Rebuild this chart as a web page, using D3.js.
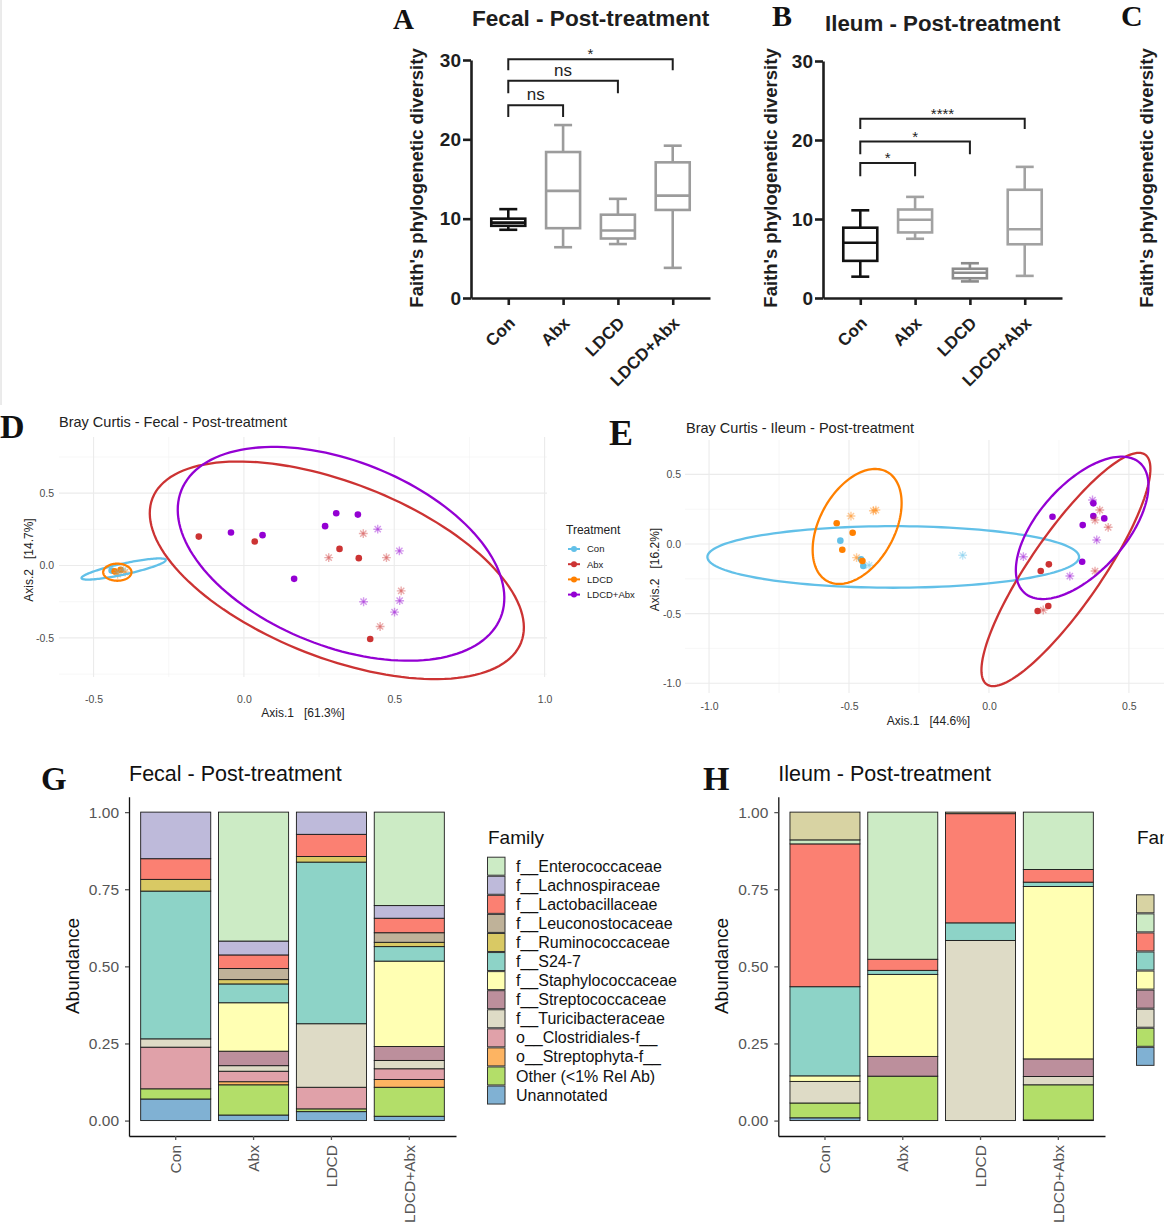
<!DOCTYPE html>
<html>
<head>
<meta charset="utf-8">
<title>Faith PD, Bray Curtis PCoA and family abundance</title>
<script src="https://cdn.jsdelivr.net/npm/d3@7"></script>
<style>
  body { margin: 0; background: #fff; }
  svg { display: block; }
</style>
</head>
<body>
<svg id="fig" width="1164" height="1224"></svg>
<script>
// groups shared by every panel
const groups = ["Con", "Abx", "LDCD", "LDCD+Abx"];
const treatColours = ["#62c0e8", "#cc3333", "#ff8000", "#9400d3"];

// A / B: Faith's phylogenetic diversity, [min, q1, median, q3, max] per group
const faithFecal = [[8.6, 9.1, 9.5, 10.0, 11.2], [6.4, 8.8, 13.5, 18.4, 21.8], [6.8, 7.5, 8.5, 10.5, 12.5], [3.8, 11.1, 12.9, 17.1, 19.2]];
const faithIleum = [[2.7, 4.7, 7.0, 8.9, 11.1], [7.5, 8.3, 9.9, 11.2, 12.8], [2.1, 2.5, 3.2, 3.7, 4.4], [2.8, 6.8, 8.7, 13.7, 16.6]];
// significance brackets: [group a, group b, bar level, foot level, label]
const sigFecal = [["Con", "Abx", 24.3, 22.8, "ns"], ["Con", "LDCD", 27.4, 25.8, "ns"], ["Con", "LDCD+Abx", 30.1, 28.7, "*"]];
const sigIleum = [["Con", "Abx", 17.1, 15.4, "*"], ["Con", "LDCD", 19.8, 18.2, "*"], ["Con", "LDCD+Abx", 22.7, 21.4, "****"]];
const faithTicks = [0, 10, 20, 30];

// D / E: Bray Curtis PCoA points [axis1, axis2, group, marker] (0 = dot, 1 = asterisk)
const pcoaFecal = [
  [-0.44, -0.035, "Con", 0], [-0.42, -0.05, "Con", 1], [-0.40, -0.03, "Con", 1],
  [-0.43, -0.04, "LDCD", 0], [-0.41, -0.03, "LDCD", 0], [-0.42, -0.06, "LDCD", 1], [-0.395, -0.045, "LDCD", 1],
  [-0.150, 0.200, "Abx", 0], [0.036, 0.166, "Abx", 0], [0.318, 0.115, "Abx", 0], [0.382, 0.051, "Abx", 0], [0.420, -0.508, "Abx", 0],
  [0.397, 0.221, "Abx", 1], [0.282, 0.055, "Abx", 1], [0.474, 0.055, "Abx", 1], [0.523, -0.175, "Abx", 1], [0.453, -0.421, "Abx", 1],
  [-0.043, 0.228, "LDCD+Abx", 0], [0.062, 0.210, "LDCD+Abx", 0], [0.167, -0.092, "LDCD+Abx", 0], [0.270, 0.272, "LDCD+Abx", 0],
  [0.307, 0.361, "LDCD+Abx", 0], [0.379, 0.352, "LDCD+Abx", 0],
  [0.445, 0.251, "LDCD+Abx", 1], [0.517, 0.101, "LDCD+Abx", 1], [0.398, -0.250, "LDCD+Abx", 1], [0.518, -0.243, "LDCD+Abx", 1], [0.501, -0.322, "LDCD+Abx", 1]
];
const pcoaIleum = [
  [-0.531, 0.024, "Con", 0], [-0.457, -0.110, "Con", 0], [-0.449, -0.158, "Con", 0], [-0.428, -0.153, "Con", 1], [-0.094, -0.081, "Con", 1],
  [-0.544, 0.149, "LDCD", 0], [-0.487, 0.081, "LDCD", 0], [-0.524, -0.041, "LDCD", 0], [-0.452, -0.122, "LDCD", 0],
  [-0.493, 0.201, "LDCD", 1], [-0.413, 0.239, "LDCD", 1], [-0.404, 0.244, "LDCD", 1], [-0.473, -0.098, "LDCD", 1],
  [0.214, -0.146, "Abx", 0], [0.185, -0.194, "Abx", 0], [0.212, -0.445, "Abx", 0], [0.174, -0.481, "Abx", 0],
  [0.396, 0.244, "Abx", 1], [0.379, 0.172, "Abx", 1], [0.426, 0.120, "Abx", 1], [0.379, -0.194, "Abx", 1], [0.194, -0.474, "Abx", 1],
  [0.227, 0.196, "LDCD+Abx", 0], [0.373, 0.292, "LDCD+Abx", 0], [0.373, 0.201, "LDCD+Abx", 0], [0.412, 0.184, "LDCD+Abx", 0],
  [0.335, 0.136, "LDCD+Abx", 0], [0.333, -0.127, "LDCD+Abx", 0],
  [0.370, 0.316, "LDCD+Abx", 1], [0.385, 0.029, "LDCD+Abx", 1], [0.123, -0.091, "LDCD+Abx", 1], [0.289, -0.230, "LDCD+Abx", 1]
];
// 95% ellipses: [group, cx, cy, ux, uy, vx, vy]  (u, v = semi-axis vectors in axis units)
const ellFecal = [
  ["Con", -0.400, -0.024, 0.140, 0.063, 0.004, -0.037],
  ["Abx", 0.309, -0.033, 0.613, -0.498, -0.106, -0.563],
  ["LDCD", -0.421, -0.046, 0.047, 0.0, 0.0, 0.059],
  ["LDCD+Abx", 0.323, 0.081, 0.531, -0.439, -0.114, -0.594]
];
const ellIleum = [
  ["Con", -0.342, -0.093, 0.664, 0.0, 0.0, 0.221],
  ["Abx", 0.275, -0.183, 0.283, 0.825, 0.105, -0.146],
  ["LDCD", -0.471, 0.126, 0.107, 0.392, 0.1175, -0.130],
  ["LDCD+Abx", 0.333, 0.116, 0.206, 0.467, 0.117, -0.208]
];

// G / H: relative abundance per family (legend order), values for Con, Abx, LDCD, LDCD+Abx
const famFecal = ["f__Enterococcaceae", "f__Lachnospiraceae", "f__Lactobacillaceae", "f__Leuconostocaceae", "f__Ruminococcaceae",
  "f__S24-7", "f__Staphylococcaceae", "f__Streptococcaceae", "f__Turicibacteraceae", "o__Clostridiales-f__",
  "o__Streptophyta-f__", "Other (<1% Rel Ab)", "Unannotated"];
const famFecalColours = ["#ccebc5", "#bebada", "#fb8072", "#bfb299", "#d9c964", "#8dd3c7", "#ffffb3", "#bc8f9c", "#dedbc6",
  "#e0a1a9", "#fdb462", "#b3de69", "#80b1d3"];
const abundFecal = [
  [0, 0.418, 0, 0.303],
  [0.151, 0.045, 0.072, 0.041],
  [0.067, 0.044, 0.072, 0.047],
  [0, 0.036, 0, 0.031],
  [0.038, 0.014, 0.018, 0.014],
  [0.479, 0.061, 0.524, 0.047],
  [0, 0.157, 0, 0.277],
  [0, 0.047, 0, 0.045],
  [0.027, 0.018, 0.206, 0.027],
  [0.135, 0.034, 0.070, 0.035],
  [0, 0.010, 0, 0.025],
  [0.033, 0.098, 0.009, 0.094],
  [0.070, 0.018, 0.029, 0.014]
];
// first family name is cut off at the figure edge
const famIleum = ["(label cut off)", "f__Enterococcaceae", "f__Lactobacillaceae", "f__S24-7", "f__Staphylococcaceae",
  "f__Streptococcaceae", "f__Turicibacteraceae", "Other (<1% Rel Ab)", "Unannotated"];
const famIleumColours = ["#d8d3a3", "#ccebc5", "#fb8072", "#8dd3c7", "#ffffb3", "#bc8f9c", "#dedbc6", "#b3de69", "#80b1d3"];
const abundIleum = [
  [0.090, 0, 0.005, 0],
  [0.013, 0.477, 0, 0.186],
  [0.463, 0.036, 0.354, 0.041],
  [0.289, 0.013, 0.057, 0.014],
  [0.018, 0.266, 0, 0.559],
  [0, 0.064, 0, 0.057],
  [0.070, 0, 0.584, 0.027],
  [0.048, 0.144, 0, 0.114],
  [0.009, 0, 0, 0.002]
];
const abundTicks = [0, 0.25, 0.5, 0.75, 1];

const SANS = "'Liberation Sans', Arial, sans-serif";
const SERIF = "'Liberation Serif', 'Times New Roman', serif";
const svg = d3.select("#fig");

// faint frame line on the left edge
svg.append("line").attr("x1", 1).attr("x2", 1).attr("y1", 0).attr("y2", 405).attr("stroke", "#d6d6d6");

function letter(t, x, y, size) {
  svg.append("text").attr("x", x).attr("y", y).attr("font-family", SERIF).attr("font-weight", "bold")
    .attr("font-size", size).attr("fill", "#111").text(t);
}

function styleAxis(ax, stroke, width, font, size, weight, fill) {
  ax.attr("font-family", null).attr("font-size", null);
  ax.select(".domain").attr("stroke", stroke).attr("stroke-width", width);
  ax.selectAll(".tick line").attr("stroke", stroke).attr("stroke-width", width);
  ax.selectAll(".tick text").attr("font-family", font).attr("font-size", size)
    .attr("font-weight", weight).attr("fill", fill);
}

// ---------- A / B box plots ----------
function drawBox(cfg) {
  const g = svg.append("g");
  const x = d3.scalePoint().domain(groups).range([cfg.left, cfg.right]).padding(0.68);
  const y = d3.scaleLinear().domain([0, 30]).range([298, cfg.top]);
  const ink = "#1e1e1e";

  const ya = g.append("g").attr("transform", `translate(${cfg.left},0)`)
    .call(d3.axisLeft(y).tickValues(faithTicks).tickSize(8).tickPadding(2).tickSizeOuter(0));
  styleAxis(ya, ink, 2.6, SANS, 19, "bold", ink);

  const xa = g.append("g").attr("transform", `translate(0,${y(0)})`)
    .call(d3.axisBottom(x).tickSize(7).tickSizeOuter(0));
  styleAxis(xa, ink, 2.6, SANS, 17, "bold", ink);
  xa.selectAll(".tick text").attr("x", 0).attr("y", 0).attr("dy", "0.35em")
    .attr("transform", "translate(3,22) rotate(-45)").attr("text-anchor", "end");

  g.append("text").attr("transform", `translate(${cfg.ylabX},178) rotate(-90)`)
    .attr("text-anchor", "middle").attr("font-family", SANS).attr("font-weight", "bold")
    .attr("font-size", 18.5).attr("fill", ink).text("Faith's phylogenetic diversity");

  const bw = 34, cw = 18;
  groups.forEach((grp, i) => {
    const s = cfg.stats[i], cx = x(grp);
    const col = cfg.grey[i];
    const b = g.append("g").attr("stroke", col).attr("stroke-width", 2.6).attr("fill", "none");
    b.append("line").attr("x1", cx).attr("x2", cx).attr("y1", y(s[0])).attr("y2", y(s[1]));
    b.append("line").attr("x1", cx).attr("x2", cx).attr("y1", y(s[3])).attr("y2", y(s[4]));
    b.append("line").attr("x1", cx - cw / 2).attr("x2", cx + cw / 2).attr("y1", y(s[0])).attr("y2", y(s[0]));
    b.append("line").attr("x1", cx - cw / 2).attr("x2", cx + cw / 2).attr("y1", y(s[4])).attr("y2", y(s[4]));
    b.append("rect").attr("x", cx - bw / 2).attr("width", bw).attr("y", y(s[3])).attr("height", y(s[1]) - y(s[3]));
    b.append("line").attr("x1", cx - bw / 2).attr("x2", cx + bw / 2).attr("y1", y(s[2])).attr("y2", y(s[2]));
  });

  cfg.sig.forEach(s => {
    const x1 = x(s[0]), x2 = x(s[1]);
    g.append("path").attr("fill", "none").attr("stroke", ink).attr("stroke-width", 2)
      .attr("d", `M${x1},${y(s[3])}V${y(s[2])}H${x2}V${y(s[3])}`);
    const star = s[4] !== "ns";
    g.append("text").attr("x", (x1 + x2) / 2).attr("y", y(s[2]) - (star ? 0 : 5))
      .attr("text-anchor", "middle").attr("font-family", SANS).attr("font-size", star ? 15 : 17)
      .attr("fill", ink).text(s[4]);
  });
}

drawBox({ stats: faithFecal, sig: sigFecal, left: 471, right: 710, top: 60, ylabX: 423,
  grey: ["#111", "#9c9c9c", "#9c9c9c", "#9c9c9c"] });
drawBox({ stats: faithIleum, sig: sigIleum, left: 823, right: 1062, top: 61, ylabX: 777,
  grey: ["#111", "#a2a2a2", "#8c8c8c", "#a2a2a2"] });

letter("A", 393, 29, 29);
letter("B", 772, 26, 30);
letter("C", 1121, 26, 30);
svg.append("text").attr("x", 472).attr("y", 26).attr("font-family", SANS).attr("font-weight", "bold")
  .attr("font-size", 22.6).attr("fill", "#1e1e1e").text("Fecal - Post-treatment");
svg.append("text").attr("x", 825).attr("y", 31).attr("font-family", SANS).attr("font-weight", "bold")
  .attr("font-size", 22.3).attr("fill", "#1e1e1e").text("Ileum - Post-treatment");
// y title of panel C, cut by the figure edge
svg.append("text").attr("transform", "translate(1153,178) rotate(-90)").attr("text-anchor", "middle")
  .attr("font-family", SANS).attr("font-weight", "bold").attr("font-size", 18.5).attr("fill", "#1e1e1e")
  .text("Faith's phylogenetic diversity");

// ---------- D / E PCoA ----------
function starPath(r) {
  const p = d3.path();
  for (let k = 0; k < 4; k++) {
    const a = k * Math.PI / 4;
    p.moveTo(-r * Math.cos(a), -r * Math.sin(a));
    p.lineTo(r * Math.cos(a), r * Math.sin(a));
  }
  return p.toString();
}

function drawPcoa(cfg) {
  const g = svg.append("g");
  const x = d3.scaleLinear().domain(cfg.xDomain).range([cfg.left, cfg.right]);
  const y = d3.scaleLinear().domain(cfg.yDomain).range([cfg.bottom, cfg.top]);
  const colour = d3.scaleOrdinal().domain(groups).range(treatColours);

  const grid = g.append("g");
  grid.selectAll("line.vmin").data(cfg.xMinor).join("line").attr("class", "vmin")
    .attr("x1", d => x(d)).attr("x2", d => x(d)).attr("y1", cfg.top).attr("y2", cfg.bottom)
    .attr("stroke", "#f4f4f4").attr("stroke-width", 0.7);
  grid.selectAll("line.hmin").data(cfg.yMinor).join("line").attr("class", "hmin")
    .attr("y1", d => y(d)).attr("y2", d => y(d)).attr("x1", cfg.left).attr("x2", cfg.right)
    .attr("stroke", "#f4f4f4").attr("stroke-width", 0.7);
  grid.selectAll("line.vmaj").data(cfg.xMajor).join("line").attr("class", "vmaj")
    .attr("x1", d => x(d)).attr("x2", d => x(d)).attr("y1", cfg.top).attr("y2", cfg.bottom)
    .attr("stroke", "#ebebeb").attr("stroke-width", 1.1);
  grid.selectAll("line.hmaj").data(cfg.yMajor).join("line").attr("class", "hmaj")
    .attr("y1", d => y(d)).attr("y2", d => y(d)).attr("x1", cfg.left).attr("x2", cfg.right)
    .attr("stroke", "#ebebeb").attr("stroke-width", 1.1);

  const fmt = d => d.toFixed(1);
  const xa = g.append("g").attr("transform", `translate(0,${cfg.bottom})`)
    .call(d3.axisBottom(x).tickValues(cfg.xMajor).tickFormat(fmt).tickSize(0).tickPadding(cfg.xPad));
  xa.select(".domain").remove();
  styleAxis(xa, "none", 0, SANS, 10.5, "normal", "#4d4d4d");
  const ya = g.append("g").attr("transform", `translate(${cfg.left},0)`)
    .call(d3.axisLeft(y).tickValues(cfg.yMajor).tickFormat(fmt).tickSize(0).tickPadding(cfg.yPad));
  ya.select(".domain").remove();
  styleAxis(ya, "none", 0, SANS, 10.5, "normal", "#4d4d4d");

  // points
  const pts = g.append("g");
  pts.selectAll("circle").data(cfg.points.filter(p => p[3] === 0)).join("circle")
    .attr("cx", p => x(p[0])).attr("cy", p => y(p[1])).attr("r", 3.3).attr("fill", p => colour(p[2]));
  const stars = pts.selectAll("g.star").data(cfg.points.filter(p => p[3] === 1)).join("g").attr("class", "star")
    .attr("transform", p => `translate(${x(p[0])},${y(p[1])})`);
  stars.append("path").attr("d", starPath(4.4)).attr("stroke", p => colour(p[2]))
    .attr("stroke-opacity", 0.4).attr("stroke-width", 1.4).attr("fill", "none");
  stars.append("circle").attr("r", 1.3).attr("fill", p => colour(p[2])).attr("fill-opacity", 0.45);

  // ellipses
  const ell = d3.line().curve(d3.curveLinearClosed);
  g.append("g").selectAll("path").data(cfg.ellipses).join("path")
    .attr("fill", "none").attr("stroke", e => colour(e[0])).attr("stroke-width", 2.3)
    .attr("d", e => ell(d3.range(0, 144).map(i => {
      const t = i / 144 * 2 * Math.PI;
      return [x(e[1] + Math.cos(t) * e[3] + Math.sin(t) * e[5]), y(e[2] + Math.cos(t) * e[4] + Math.sin(t) * e[6])];
    })));

  g.append("text").attr("x", cfg.titleX).attr("y", cfg.titleY).attr("font-family", SANS).attr("font-size", 14.5)
    .attr("fill", "#222").text(cfg.title);
  g.append("text").attr("x", (cfg.left + cfg.right) / 2).attr("y", cfg.xlabY).attr("text-anchor", "middle")
    .attr("font-family", SANS).attr("font-size", 12).attr("fill", "#222").style("white-space", "pre").text(cfg.xlab);
  g.append("text").attr("transform", `translate(${cfg.ylabX},${(cfg.top + cfg.bottom) / 2 + 3}) rotate(-90)`)
    .attr("text-anchor", "middle").attr("dy", "0.35em").attr("font-family", SANS).attr("font-size", 12)
    .attr("fill", "#222").style("white-space", "pre").text(cfg.ylab);
  return colour;
}

const pcoaColour = drawPcoa({
  points: pcoaFecal, ellipses: ellFecal,
  xDomain: [-0.615, 1.008], yDomain: [-0.77, 0.888], left: 59, right: 547, top: 437, bottom: 677,
  xMajor: [-0.5, 0, 0.5, 1.0], xMinor: [-0.25, 0.25, 0.75], yMajor: [-0.5, 0, 0.5], yMinor: [-0.75, -0.25, 0.25, 0.75],
  xPad: 18.5, yPad: 5,
  title: "Bray Curtis - Fecal - Post-treatment", titleX: 59, titleY: 427,
  xlab: "Axis.1   [61.3%]", xlabY: 717, ylab: "Axis.2   [14.7%]", ylabX: 29
});
drawPcoa({
  points: pcoaIleum, ellipses: ellIleum,
  xDomain: [-1.086, 0.654], yDomain: [-1.07, 0.747], left: 685, right: 1172, top: 440, bottom: 693,
  xMajor: [-1.0, -0.5, 0, 0.5], xMinor: [-0.75, -0.25, 0.25], yMajor: [-1.0, -0.5, 0, 0.5], yMinor: [-0.75, -0.25, 0.25],
  xPad: 10, yPad: 4,
  title: "Bray Curtis - Ileum - Post-treatment", titleX: 686, titleY: 433,
  xlab: "Axis.1   [44.6%]", xlabY: 725, ylab: "Axis.2   [16.2%]", ylabX: 655
});

// treatment legend (belongs to D)
const tl = svg.append("g").attr("transform", "translate(566,0)");
tl.append("text").attr("x", 0).attr("y", 534).attr("font-family", SANS).attr("font-size", 12).attr("fill", "#222").text("Treatment");
const tItems = tl.selectAll("g.item").data(groups).join("g").attr("class", "item")
  .attr("transform", (d, i) => `translate(0,${549 + i * 15.2})`);
tItems.append("line").attr("x1", 2).attr("x2", 14).attr("stroke", d => pcoaColour(d)).attr("stroke-width", 2);
tItems.append("circle").attr("cx", 8).attr("r", 3).attr("fill", d => pcoaColour(d));
tItems.append("text").attr("x", 21).attr("dy", "0.35em").attr("font-family", SANS).attr("font-size", 9.5)
  .attr("fill", "#222").text(d => d);

letter("D", 0, 438, 34);
letter("E", 609, 445, 36);

// ---------- G / H stacked bars ----------
function drawStack(cfg) {
  const g = svg.append("g");
  const x = d3.scaleBand().domain(groups).range([cfg.left, cfg.right]).paddingInner(0.1).paddingOuter(0.15);
  const y = d3.scaleLinear().domain([-0.05, 1.05]).range([1136, 796.7]);
  const colour = d3.scaleOrdinal().domain(cfg.families).range(cfg.colours);
  const rows = groups.map((grp, i) => {
    const r = { group: grp };
    cfg.families.forEach((f, j) => { r[f] = cfg.values[j][i]; });
    return r;
  });
  const series = d3.stack().keys(cfg.families.slice().reverse())(rows);

  g.append("g").selectAll("g").data(series).join("g").attr("fill", s => colour(s.key))
    .selectAll("rect").data(s => s).join("rect")
    .attr("x", d => x(d.data.group)).attr("width", x.bandwidth())
    .attr("y", d => y(d[1])).attr("height", d => y(d[0]) - y(d[1]))
    .attr("stroke", "#1a1a1a").attr("stroke-width", 0.9);

  const ya = g.append("g").attr("transform", `translate(${cfg.left},0)`)
    .call(d3.axisLeft(y).tickValues(abundTicks).tickFormat(d3.format(".2f")).tickSize(4).tickPadding(6).tickSizeOuter(0));
  styleAxis(ya, "#111", 1.3, SANS, 15.5, "normal", "#555");
  ya.selectAll(".tick line").attr("stroke", "#555");
  const xa = g.append("g").attr("transform", "translate(0,1136)")
    .call(d3.axisBottom(x).tickSize(4).tickSizeOuter(0));
  styleAxis(xa, "#111", 1.3, SANS, 15.5, "normal", "#555");
  xa.selectAll(".tick line").attr("stroke", "#555");
  xa.selectAll(".tick text").attr("x", -9).attr("y", 0).attr("dy", "0.35em")
    .attr("transform", "rotate(-90)").attr("text-anchor", "end");

  g.append("text").attr("transform", `translate(${cfg.left - 57},966) rotate(-90)`).attr("text-anchor", "middle")
    .attr("dy", "0.35em").attr("font-family", SANS).attr("font-size", 19).attr("fill", "#111").text("Abundance");
  g.append("text").attr("x", cfg.left).attr("y", 781).attr("font-family", SANS).attr("font-size", 21.5)
    .attr("fill", "#111").text(cfg.title);

  // legend
  const lg = g.append("g").attr("transform", `translate(${cfg.legendX},0)`);
  lg.append("text").attr("x", 1).attr("y", 843.5).attr("font-family", SANS).attr("font-size", 19)
    .attr("fill", "#111").text("Family");
  const items = lg.selectAll("g.key").data(cfg.families).join("g").attr("class", "key")
    .attr("transform", (d, i) => `translate(0,${cfg.legendY + i * 19.07})`);
  items.append("rect").attr("x", 0.5).attr("y", 0.5).attr("width", 17.5).attr("height", 18)
    .attr("fill", d => colour(d)).attr("stroke", "#333").attr("stroke-width", 1);
  if (cfg.legendLabels) {
    items.append("text").attr("x", 29).attr("y", 9.5).attr("dy", "0.35em").attr("font-family", SANS)
      .attr("font-size", 16).attr("fill", "#111").text(d => d);
  }
}

drawStack({ families: famFecal, colours: famFecalColours, values: abundFecal, left: 129, right: 456,
  title: "Fecal - Post-treatment", legendX: 487, legendY: 856.7, legendLabels: true });
drawStack({ families: famIleum, colours: famIleumColours, values: abundIleum, left: 778.3, right: 1105,
  title: "Ileum - Post-treatment", legendX: 1136, legendY: 894.3, legendLabels: false });

letter("G", 41, 790, 33);
letter("H", 703, 790, 34);
</script>
</body>
</html>
